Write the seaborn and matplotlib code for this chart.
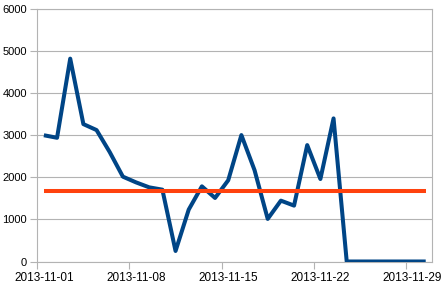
import matplotlib
matplotlib.use('Agg')
import matplotlib.pyplot as plt
import seaborn as sns
import pandas as pd

# ---- data ----
dates = pd.date_range('2013-11-01', '2013-11-30', freq='D')
values = [3000, 2940, 4820, 3265, 3123, 2600, 2016, 1880, 1762, 1707,
          250, 1233, 1786, 1510, 1930, 3004, 2170, 1012, 1446, 1328,
          2766, 1960, 3400, 0, 0, 0, 0, 0, 0, 0]
mean_value = 1665
tick_dates = ['2013-11-01', '2013-11-08', '2013-11-15', '2013-11-22', '2013-11-29']
y_ticks = [0, 1000, 2000, 3000, 4000, 5000, 6000]

sns.set_theme(style='white')
plt.rcParams['font.family'] = ['Liberation Sans', 'DejaVu Sans']

GRAY = '#b3b3b3'
fig = plt.figure(figsize=(4.48, 2.85), dpi=100)
ax = fig.add_axes([37.3 / 448, 1 - 261.5 / 285, (432.3 - 37.3) / 448, (261.5 - 9) / 285])

df = pd.DataFrame({
    'date': dates + pd.Timedelta(hours=12),
    'value': values,
    'mean': [mean_value] * len(values),
})
sns.lineplot(data=df, x='date', y='value', color='#004586', lw=2.9, ax=ax,
             solid_joinstyle='round', solid_capstyle='butt', zorder=3)
sns.lineplot(data=df, x='date', y='mean', color='#ff420e', lw=2.9, ax=ax,
             solid_capstyle='butt', zorder=4)

ax.set_xlim(pd.Timestamp('2013-11-01'), pd.Timestamp('2013-12-01'))
ax.set_ylim(0, 6000)
ax.set_yticks(y_ticks)
ax.set_yticklabels([str(v) for v in y_ticks])

tick_ts = [pd.Timestamp(t) for t in tick_dates]
ax.set_xticks(tick_ts)
ax.set_xticklabels([''] * len(tick_ts))
ax.set_xticks([t + pd.Timedelta(hours=12) for t in tick_ts], minor=True)
ax.set_xticklabels(tick_dates, minor=True)

ax.tick_params(axis='both', which='major', length=5, width=0.8, color=GRAY,
               direction='out', labelcolor='black')
ax.tick_params(axis='x', which='major', bottom=True, pad=2)
ax.tick_params(axis='y', which='major', left=True, pad=2.5, labelsize=8)
ax.tick_params(axis='x', which='minor', bottom=True, length=0, labelsize=8.5,
               labelcolor='black', pad=7.5)

ax.grid(axis='y', color=GRAY, lw=0.8)
ax.grid(axis='x', visible=False)
for s in ax.spines.values():
    s.set_visible(True)
    s.set_color(GRAY)
    s.set_linewidth(0.8)

ax.set_xlabel('')
ax.set_ylabel('')
fig.savefig('out.png', dpi=100)
